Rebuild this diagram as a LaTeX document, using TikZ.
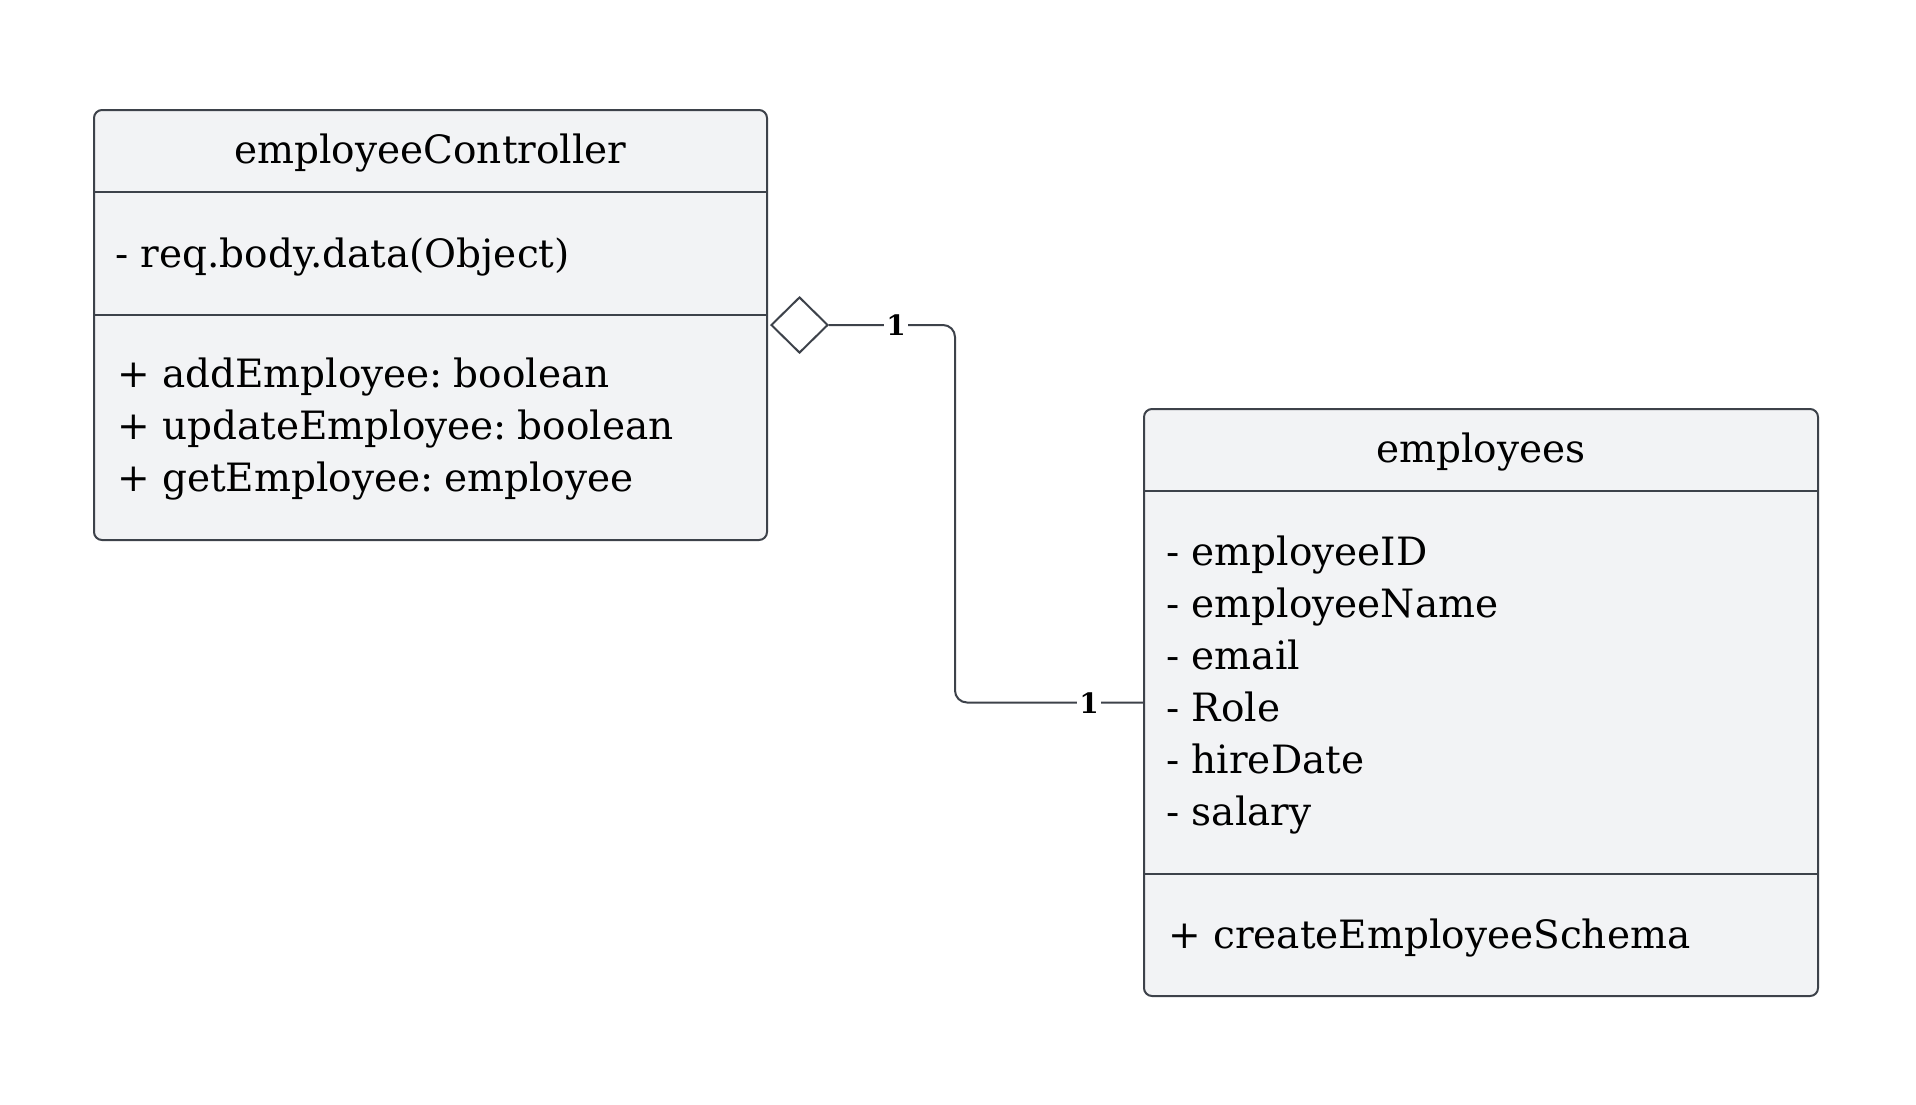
\documentclass[tikz,border=0pt]{standalone}
\usepackage{fontspec}
\setmainfont{DejaVu Serif}
\usetikzlibrary{shapes.geometric}
\definecolor{boxfill}{RGB}{242,243,245}
\definecolor{boxline}{RGB}{61,66,74}
\begin{document}
\begin{tikzpicture}[x=1pt,y=-1pt,
  classbox/.style={draw=boxline,fill=boxfill,line width=2pt,rounded corners=8pt,rectangle,inner sep=0pt},
  divider/.style={draw=boxline,line width=2pt},
  title/.style={font=\fontsize{39}{47}\selectfont,anchor=mid,inner sep=0pt},
  member/.style={font=\fontsize{39}{47}\selectfont,anchor=mid west,inner sep=0pt},
  conn/.style={draw=boxline,line width=2pt,rounded corners=12pt},
  mult/.style={font=\bfseries\fontsize{28}{32}\selectfont,fill=white,inner sep=2pt}]
\useasboundingbox (0,0) rectangle (1916,1104);
% left class
\node[classbox,minimum width=673pt,minimum height=430pt] (ctrl) at (430.5,325) {};
\draw[divider] (ctrl.west |- 0,192) -- (ctrl.east |- 0,192);
\draw[divider] (ctrl.west |- 0,315) -- (ctrl.east |- 0,315);
\node[title] (ctrlname) at (430.5,161) {employeeController};
\node[member] (ctrlattr) at (115,265) {- req.body.data(Object)};
\node[member] (ctrlop1) at (117,385) {+ addEmployee:\hspace{-0.15em} boolean};
\node[member] (ctrlop2) at (117,437) {+ updateEmployee:\hspace{-0.15em} boolean};
\node[member] (ctrlop3) at (117,489) {+ getEmployee:\hspace{-0.15em} employee};
% right class
\node[classbox,minimum width=674pt,minimum height=587pt] (emp) at (1481,702.5) {};
\draw[divider] (emp.west |- 0,491) -- (emp.east |- 0,491);
\draw[divider] (emp.west |- 0,874) -- (emp.east |- 0,874);
\node[title] (empname) at (1481,460) {employees};
\node[member] (empa1) at (1166,563) {- employeeID};
\node[member] (empa2) at (1166,615) {- employeeName};
\node[member] (empa3) at (1166,667) {- email};
\node[member] (empa4) at (1166,719) {- Role};
\node[member] (empa5) at (1166,771) {- hireDate};
\node[member] (empa6) at (1166,823) {- salary};
\node[member] (empop1) at (1168,946) {+ createEmployeeSchema};
% aggregation
\node[diamond,draw=boxline,fill=white,line width=2pt,minimum width=57pt,minimum height=56pt,inner sep=0pt,anchor=west] (agg) at (770,325) {};
\coordinate (bend) at (955,325);
\draw[conn] (agg.east) -- (bend) -- (bend |- emp.west) -- (emp.west);
\node[mult] (m1) at (896,325) {1};
\node[mult] (m2) at (1089,703) {1};
\end{tikzpicture}
\end{document}
